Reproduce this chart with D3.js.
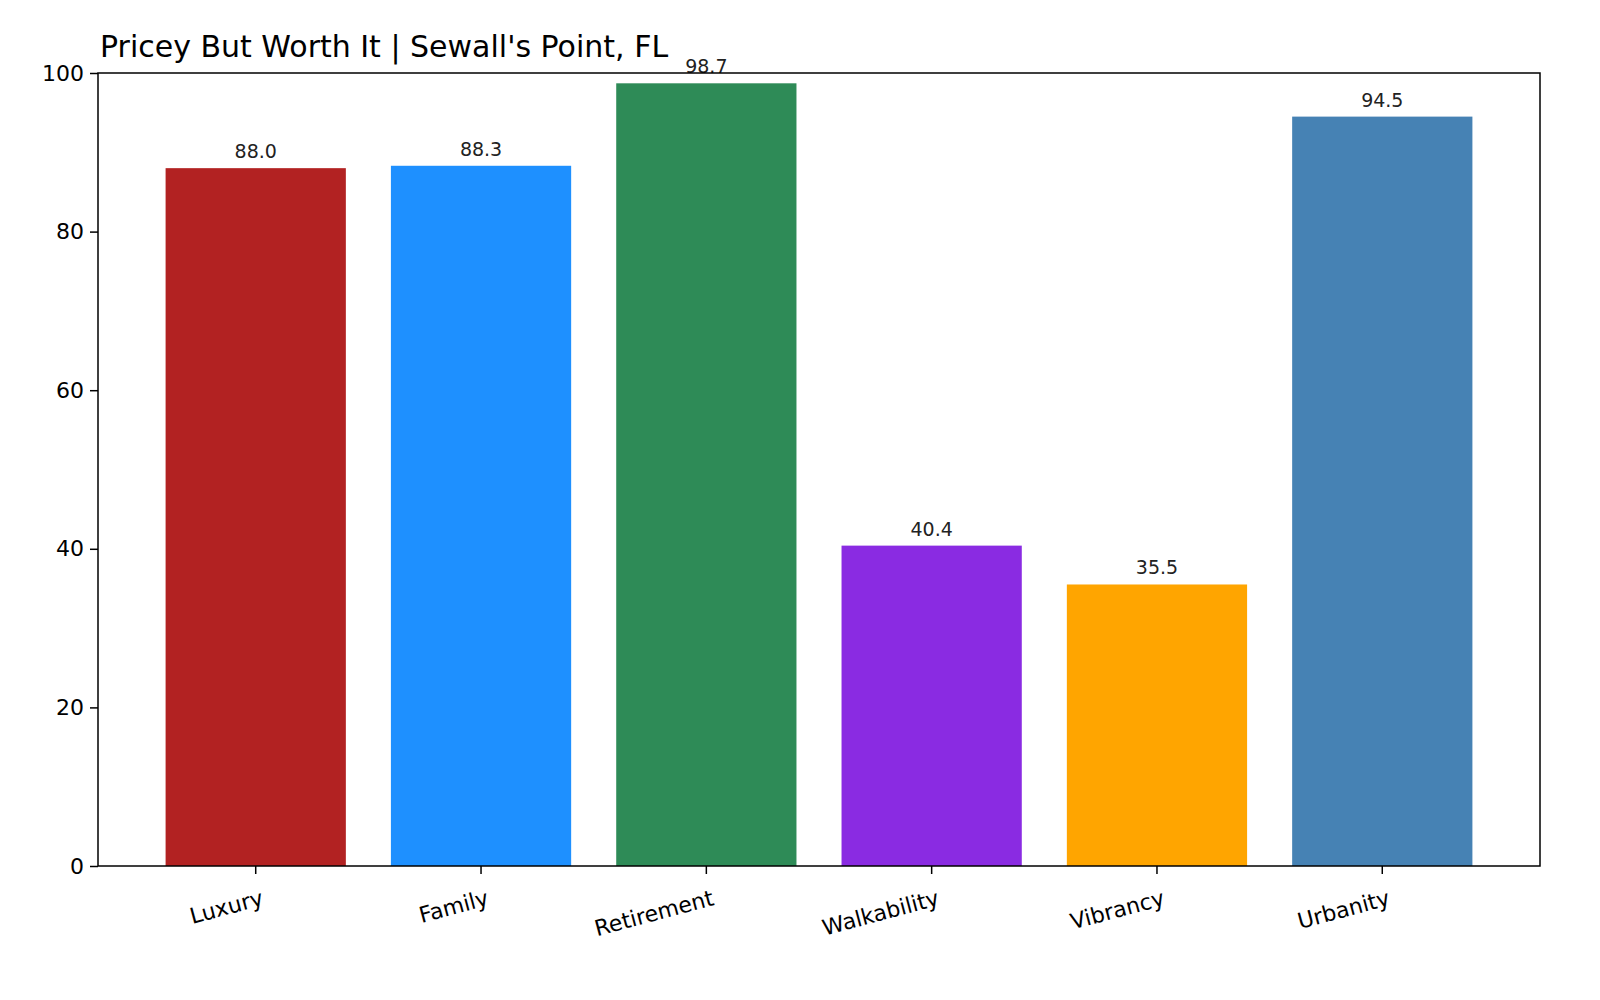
<!DOCTYPE html>
<html>
<head>
<meta charset="utf-8" />
<script src="https://cdn.jsdelivr.net/npm/d3@7"></script>
<style>
  body { margin: 0; background: #fff; }
  text { font-family: "DejaVu Sans", sans-serif; }
</style>
</head>
<body>
<svg id="chart" width="1600" height="1000"></svg>
<script>
const categories = ['Luxury', 'Family', 'Retirement', 'Walkability', 'Vibrancy', 'Urbanity'];
const values = [88.0, 88.3, 98.7, 40.4, 35.5, 94.5];
const colors = ['firebrick', 'dodgerblue', 'seagreen', 'blueviolet', 'orange', 'steelblue'];
const yTicks = [0, 20, 40, 60, 80, 100];

const plotLeft = 98, plotRight = 1540, plotTop = 73, plotBottom = 866;
const svg = d3.select('#chart');

const x = d3.scaleBand().domain(categories).range([plotLeft, plotRight])
    .paddingInner(0.2).paddingOuter(0.3);
const y = d3.scaleLinear().domain([0, 100]).range([plotBottom, plotTop]);

svg.append('g')
    .selectAll('rect')
    .data(values)
    .enter().append('rect')
    .attr('x', (d, i) => x(categories[i]))
    .attr('y', d => y(d))
    .attr('width', x.bandwidth())
    .attr('height', d => y(0) - y(d))
    .style('fill', (d, i) => colors[i]);

svg.append('g')
    .selectAll('text')
    .data(values)
    .enter().append('text')
    .attr('x', (d, i) => x(categories[i]) + x.bandwidth() / 2)
    .attr('y', d => y(d) - 10)
    .attr('text-anchor', 'middle')
    .style('font-size', '19px')
    .style('fill', '#222')
    .text(d => d.toFixed(1));

// frame
svg.append('rect')
    .attr('x', plotLeft).attr('y', plotTop)
    .attr('width', plotRight - plotLeft).attr('height', plotBottom - plotTop)
    .style('fill', 'none').style('stroke', '#000').style('stroke-width', 1.5);

const yAxis = svg.append('g')
    .attr('transform', `translate(${plotLeft},0)`)
    .call(d3.axisLeft(y).tickValues(yTicks).tickSize(8).tickPadding(6));
yAxis.select('.domain').remove();
yAxis.selectAll('text').style('font-size', '22px').style('fill', '#000')
    .style('font-family', '"DejaVu Sans", sans-serif');
yAxis.selectAll('line').style('stroke-width', 1.5);

const xAxis = svg.append('g')
    .attr('transform', `translate(0,${plotBottom})`)
    .call(d3.axisBottom(x).tickSize(8).tickPadding(6));
xAxis.select('.domain').remove();
xAxis.selectAll('line').style('stroke-width', 1.5);
xAxis.selectAll('text')
    .style('font-size', '22px').style('fill', '#000')
    .style('font-family', '"DejaVu Sans", sans-serif')
    .attr('text-anchor', 'end')
    .attr('dy', '0.9em')
    .attr('transform', 'translate(0,6) rotate(-15)');

svg.append('text')
    .attr('x', plotLeft + 2).attr('y', 57)
    .style('font-size', '30px')
    .text("Pricey But Worth It | Sewall's Point, FL");
</script>
</body>
</html>
